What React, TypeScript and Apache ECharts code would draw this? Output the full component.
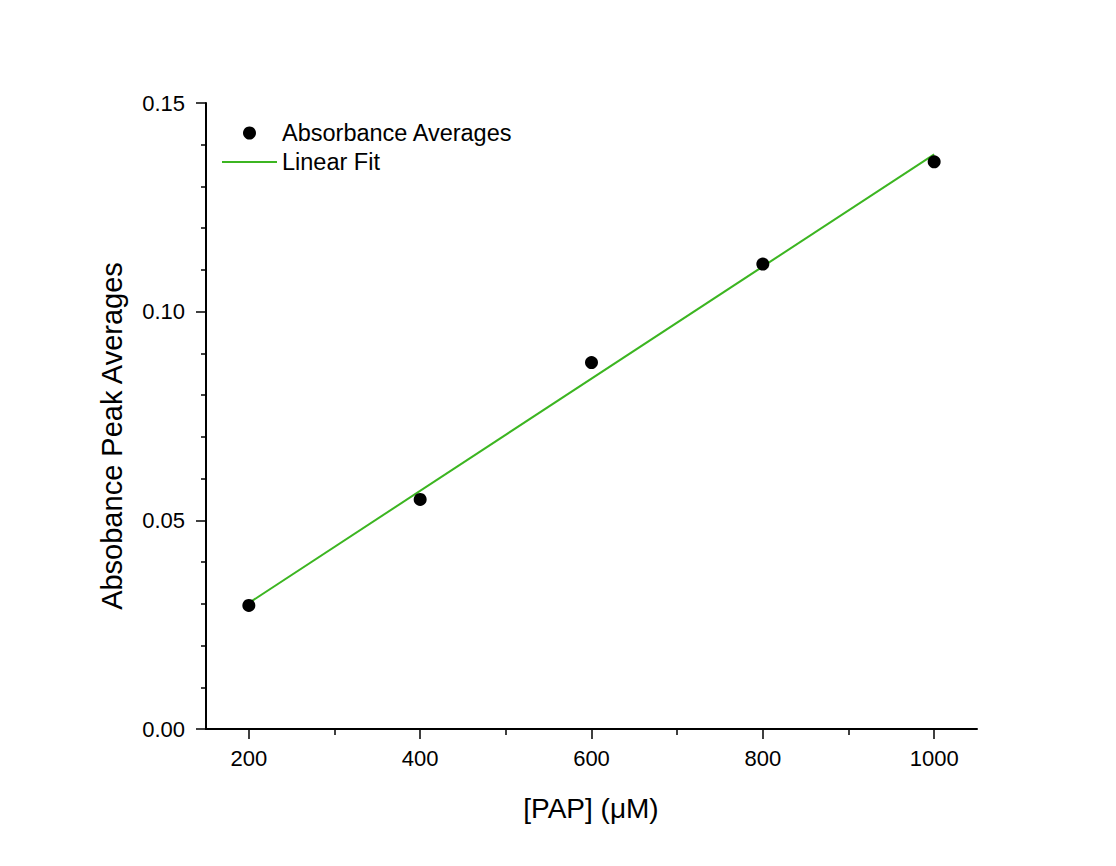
import React, { useEffect, useRef } from "react";
import * as echarts from "echarts";

const concentrations = [200, 400, 600, 800, 1000];
const absorbance = [0.0296, 0.055, 0.0878, 0.1114, 0.1359];
const fitX = [200, 1000];
const fitY = [0.0302, 0.1377];
const xMajorTicks = [200, 400, 600, 800, 1000];
const xMinorTicks = [300, 500, 700, 900];
const seriesNames = ["Absorbance Averages", "Linear Fit"];
const xTitle = "[PAP] (\u03bcM)";
const yTitle = "Absobance Peak Averages";

const FONT = "Arial, 'Liberation Sans', sans-serif";
const INK = "#000000";
const GREEN = "#3cb521";

export default function App() {
  const ref = useRef<HTMLDivElement>(null);
  useEffect(() => {
    if (!ref.current) return;
    const chart = echarts.init(ref.current, null, { renderer: "svg" });
    const axisBase = {
      type: "value" as const,
      min: 150,
      max: 1050,
      position: "bottom" as const,
      splitLine: { show: false },
    };
    chart.setOption({
      animation: false,
      backgroundColor: "#ffffff",
      grid: { left: 206, right: 139, top: 103, bottom: 137 },
      legend: {
        orient: "vertical",
        left: 222,
        top: 121,
        padding: 0,
        itemWidth: 55,
        itemHeight: 13,
        itemGap: 5,
        textStyle: { fontFamily: FONT, fontSize: 23.5, color: INK },
        data: [
          { name: seriesNames[0], icon: "circle" },
          { name: seriesNames[1], icon: "path://M0,0 L55,0 L55,2 L0,2 Z" },
        ],
      },
      xAxis: [
        {
          ...axisBase,
          axisLine: { show: true, onZero: false, lineStyle: { color: INK, width: 2 } },
          axisTick: {
            show: true,
            length: 10,
            customValues: xMajorTicks,
            lineStyle: { color: INK, width: 1.5 },
          },
          axisLabel: {
            show: true,
            customValues: xMajorTicks,
            fontFamily: FONT,
            fontSize: 22,
            color: INK,
            margin: 18,
            formatter: (v: number) => String(v),
          },
        },
        {
          ...axisBase,
          axisLine: { show: false, onZero: false },
          axisTick: {
            show: true,
            length: 6,
            customValues: xMinorTicks,
            lineStyle: { color: INK, width: 1.5 },
          },
          axisLabel: { show: false },
        },
      ],
      yAxis: {
        type: "value",
        min: 0,
        max: 0.15,
        interval: 0.05,
        axisLine: { show: true, onZero: false, lineStyle: { color: INK, width: 2 } },
        axisTick: { show: true, length: 10, lineStyle: { color: INK, width: 1.5 } },
        minorTick: { show: true, splitNumber: 5, length: 5, lineStyle: { color: INK, width: 1.5 } },
        splitLine: { show: false },
        minorSplitLine: { show: false },
        axisLabel: {
          fontFamily: FONT,
          fontSize: 22,
          color: INK,
          margin: 21,
          formatter: (v: number) => v.toFixed(2),
        },
      },
      series: [
        {
          name: seriesNames[0],
          type: "scatter",
          xAxisIndex: 0,
          symbol: "circle",
          symbolSize: 13,
          itemStyle: { color: "#000000", opacity: 1 },
          data: concentrations.map((x, i) => [x, absorbance[i]]),
          z: 3,
        },
        {
          name: seriesNames[1],
          type: "line",
          xAxisIndex: 0,
          symbol: "none",
          lineStyle: { color: GREEN, width: 2 },
          itemStyle: { color: GREEN },
          data: fitX.map((x, i) => [x, fitY[i]]),
          z: 2,
        },
      ],
      graphic: [
        {
          type: "text",
          x: 112,
          y: 436,
          rotation: Math.PI / 2,
          style: {
            text: yTitle,
            fontFamily: FONT,
            fontSize: 29,
            fill: INK,
            align: "center",
            verticalAlign: "middle",
          },
        },
        {
          type: "text",
          x: 591,
          y: 808,
          style: {
            text: xTitle,
            fontFamily: FONT,
            fontSize: 28,
            fill: INK,
            align: "center",
            verticalAlign: "middle",
          },
        },
      ],
    });
    return () => chart.dispose();
  }, []);
  return (
    <div
      ref={ref}
      style={{ position: "fixed", left: 0, top: 0, width: 1116, height: 866 }}
    />
  );
}
